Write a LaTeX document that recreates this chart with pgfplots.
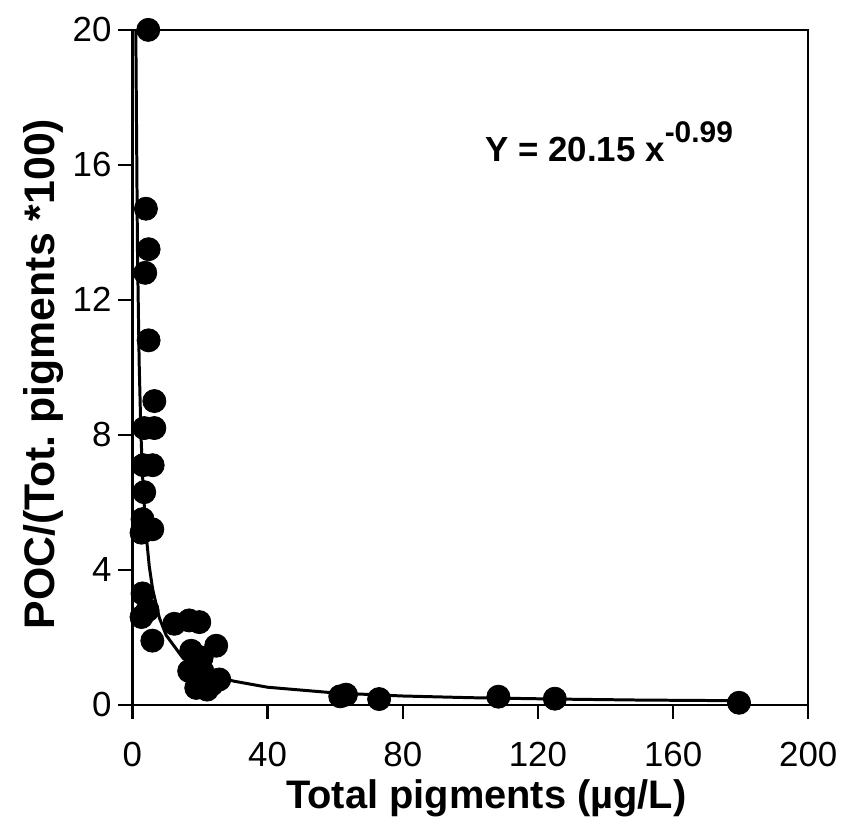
\documentclass[border=0pt]{standalone}
\usepackage{pgfplots}
\pgfplotsset{compat=1.18}
\usepackage{fontspec}
\setmainfont{Liberation Sans}
\begin{document}
\begin{tikzpicture}
\path (-66.5pt,-67pt) rectangle (355.5pt,354pt);
\begin{axis}[
  at={(0pt,0pt)}, anchor=origin,
  scale only axis, width=339.5pt, height=339pt,
  xmin=0, xmax=200, ymin=0, ymax=20,
  xtick={0,40,...,200}, ytick={0,4,...,20},
  tick align=outside, tick pos=left,
  major tick length=7pt,
  axis line style={line width=1.2pt},
  every tick/.style={black, line width=1.2pt},
  /pgf/number format/assume math mode=true,
  tick label style={font=\fontsize{17.5}{17.5}\selectfont},
  xticklabel style={anchor=base, yshift=-24pt},
  yticklabel style={anchor=east, xshift=0pt},
  xlabel={\textbf{Total pigments (µg/L)}},
  ylabel={\textbf{POC/(Tot.\ pigments *100)}},
  xlabel style={font=\fontsize{20}{20}\selectfont, at={(axis description cs:0.5236,-0.1534)}, anchor=base},
  ylabel style={font=\fontsize{21.5}{21.5}\selectfont, at={(axis description cs:-0.1149,0.49)}, anchor=base},
  clip=false,
]
\addplot[black, line width=1.5pt, no marks] coordinates {
(1.0075,20.0) (1.5,13.49) (2,10.15) (2.5,8.13) (3,6.79) (4,5.11) (5,4.10) (6,3.42)
(8,2.57) (10,2.06) (15,1.38) (20,1.04) (25,0.83) (30,0.70) (40,0.52) (60,0.35)
(80,0.26) (100,0.21) (125,0.17) (150,0.14) (180,0.12)
};
\addplot[only marks, mark=*, mark size=5.8pt, black] coordinates {
(4.7,20.0) (4.0,14.7) (4.8,13.5) (3.8,12.8) (4.8,10.8) (6.5,9.0)
(3.5,8.2) (6.5,8.2) (3.2,7.1) (6.0,7.1) (3.5,6.3) (3.0,5.5) (5.9,5.2) (2.7,5.1)
(3.0,3.3) (4.5,2.8) (2.7,2.6) (5.9,1.9) (12.4,2.4) (16.8,2.5) (19.8,2.45)
(24.8,1.75) (17.4,1.6) (20.5,1.4) (16.8,1.0) (20.7,1.0) (25.7,0.75) (22.1,0.45)
(18.9,0.5) (23.5,0.6) (61.5,0.25) (63.2,0.3) (73,0.17) (108.3,0.24) (125,0.18) (179.5,0.06)
};
\node[anchor=base west, font=\bfseries\fontsize{17.5}{17.5}\selectfont, inner sep=0pt] at (axis cs:104.4,16.1)
  {Y = 20.15 x\raisebox{0.55em}{\fontsize{15}{15}\selectfont -0.99}};
\end{axis}
\end{tikzpicture}
\end{document}
